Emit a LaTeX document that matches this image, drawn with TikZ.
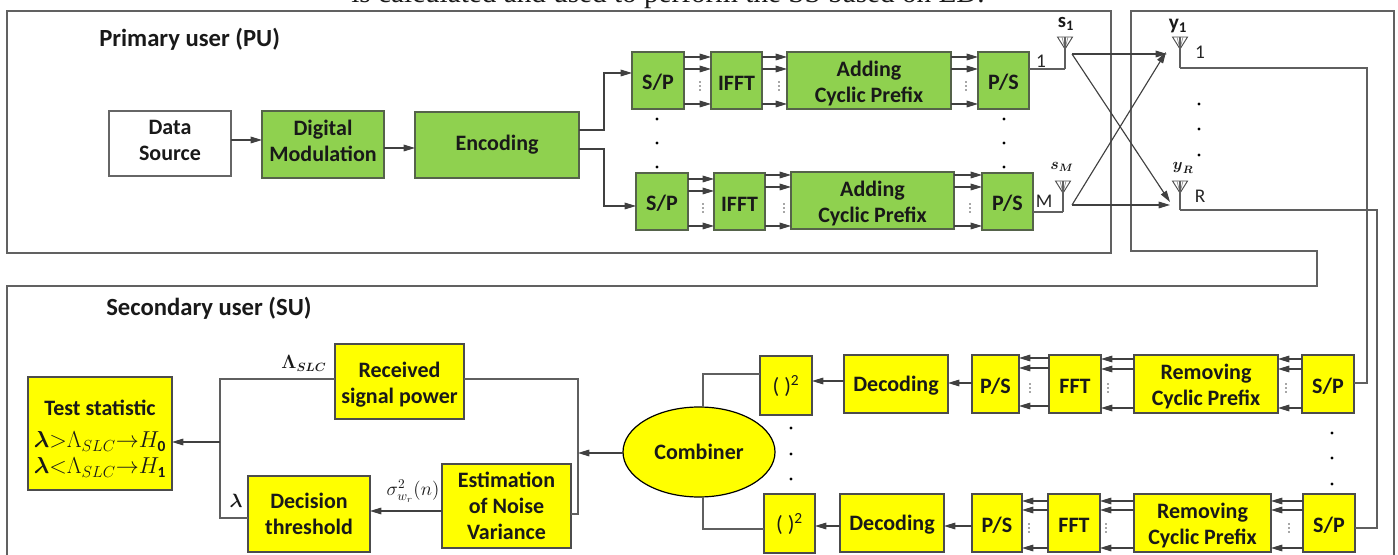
\documentclass[tikz,border=0pt]{standalone}
\usepackage{amsmath,amssymb}
\usepackage{fontspec}
\setmainfont{Carlito}
\newfontfamily\serifcut{Liberation Serif}
\usetikzlibrary{arrows.meta,calc,shapes.geometric}
\definecolor{pugreen}{HTML}{8FD14F}
\definecolor{puryellow}{HTML}{FFFF00}
\definecolor{lineg}{HTML}{5F5F5F}
\definecolor{edgeg}{HTML}{55634A}
\newcommand{\dn}[1]{\rule[-#1]{0pt}{#1}}
\newcommand{\upr}{\rule{0pt}{16pt}}
\tikzset{
  base/.style={rectangle,inner sep=0pt,outer sep=0pt,align=center,line width=0.9pt,
    font=\fontsize{16.5}{19.5}\selectfont\bfseries,text=black!90,
    execute at begin node={\rule{0pt}{14.5pt}}},
  whitebox/.style={base,draw=black!60,fill=white},
  greenbox/.style={base,draw=edgeg,fill=pugreen},
  yellowbox/.style={base,draw=black!70,fill=puryellow},
  wire/.style={draw=lineg,line width=0.85pt},
  arr/.style={wire,-{Triangle[length=8.5pt,width=5pt]},draw=black!75},
  frameline/.style={draw=black!62,line width=1pt},
  lab/.style={inner sep=0pt,font=\fontsize{18.5}{20}\selectfont\bfseries,text=black!90},
  small/.style={inner sep=0pt,font=\fontsize{14.5}{16}\selectfont,text=black!85},
  mathlab/.style={inner sep=0pt,text=black!90},
  dotnode/.style={circle,fill=black,inner sep=0pt,minimum size=2.4pt},
  tinydot/.style={circle,fill=black!70,inner sep=0pt,minimum size=1.3pt},
  ant/.style={draw=black!70,line width=0.7pt},
  antin/.style={draw=black!45,line width=0.5pt}
}
\newcommand{\bx}[7]{\node[#2,minimum width={(#5-#3)*0.75pt},minimum height={(#6-#4)*0.75pt}] (#1) at ({(#3+#5)/2},{(#4+#6)/2}) {#7};}
\newcommand{\vd}[4]{\foreach \yy in {#2,#3,#4} \node[dotnode] at (#1,\yy) {};}
\newcommand{\gapd}[2]{\node[tinydot] at (#1,#2-4) {};\node[tinydot] at (#1,#2) {};\node[tinydot] at (#1,#2+4) {};}
\newcommand{\antenna}[3]{%
  \draw[ant] (#1-7.5,#2) -- (#1+7.5,#2) -- (#1,#2+12) -- cycle;
  \draw[antin] (#1-3,#2) -- (#1,#2+12) -- (#1+3,#2);
  \draw[wire] (#1,#2) -- (#1,#3);}
\begin{document}
\begin{tikzpicture}[x=0.75pt,y=-0.75pt]
\useasboundingbox (0,0) rectangle (1398,555);
\node[anchor=base,inner sep=0pt,font=\fontsize{21.9}{23}\serifcut,text=black!90] (cuttext) at (668,3) {is calculated and used to perform the SS based on ED.};

% frames
\draw[frameline] (7,11) rectangle (1111,253);
\draw[frameline] (7,555) -- (7,286) -- (1317,286) -- (1317,251) -- (1131,251) -- (1131,11) -- (1394,11) -- (1394,555);
\node[lab,anchor=west] (putitle) at (99,39) {Primary user (PU)};
\node[lab,anchor=west] (sutitle) at (106,308) {Secondary user (SU)};

% primary chain
\bx{data}{whitebox}{109}{111}{231}{176}{Data\\Source\dn{4.5pt}}
\bx{mod}{greenbox}{262}{111}{384}{178}{Digital\\Modulation\dn{6pt}}
\bx{enc}{greenbox}{415}{112}{579}{178}{Encoding\dn{6.5pt}}
\bx{spa}{greenbox}{632}{52}{684}{109}{S/P}
\bx{iffta}{greenbox}{711}{52}{762}{109}{IFFT}
\bx{cpa}{greenbox}{787}{52}{951}{109}{\upr Adding\\Cyclic Prefix}
\bx{psa}{greenbox}{978}{52}{1029}{109}{P/S}
\bx{spb}{greenbox}{636}{173}{688}{230}{S/P}
\bx{ifftb}{greenbox}{714}{173}{765}{230}{IFFT}
\bx{cpb}{greenbox}{791}{172}{954}{229}{\upr Adding\\Cyclic Prefix}
\bx{psb}{greenbox}{982}{173}{1033}{230}{P/S}

\draw[arr] (data.east |- 0,140) -- (mod.west |- 0,140);
\draw[arr] (mod.east |- 0,148) -- (enc.west |- 0,148);
\draw[arr] (enc.east |- 0,130) -- (604,130) -- (604,73) -- (spa.west |- 0,73);
\draw[arr] (enc.east |- 0,149) -- (604,149) -- (604,206) -- (spb.west |- 0,206);
\foreach \y in {57,69,104} {
  \draw[arr] (spa.east |- 0,\y) -- (iffta.west |- 0,\y);
  \draw[arr] (iffta.east |- 0,\y) -- (cpa.west |- 0,\y);
  \draw[arr] (cpa.east |- 0,\y) -- (psa.west |- 0,\y);
}
\foreach \y in {179,191,226} \draw[arr] (spb.east |- 0,\y) -- (ifftb.west |- 0,\y);
\foreach \y in {175,187,226} {
  \draw[arr] (ifftb.east |- 0,\y) -- (cpb.west |- 0,\y);
  \draw[arr] (cpb.east |- 0,\y) -- (psb.west |- 0,\y);
}
\gapd{700}{86}\gapd{779}{86}\gapd{966}{86}
\gapd{703}{208}\gapd{784}{208}\gapd{970}{208}
\vd{657}{119}{143}{167}
\vd{1004}{119}{143}{167}

% antennas
\coordinate (sa) at (1065,69);
\coordinate (sb) at (1063,212);
\coordinate (ya) at (1180,68);
\coordinate (yb) at (1180,210);
\antenna{1065}{37}{69}
\antenna{1063}{181}{212}
\antenna{1180}{37}{68}
\antenna{1180}{181}{210}
\draw[wire] (psa.east |- sa) -- (sa);
\draw[wire] (psb.east |- sb) -- (sb);
\node[small] (n1) at (1041,61) {1};
\node[small] (nm) at (1044,201) {M};
\node[small] (nr1) at (1200,52) {1};
\node[small] (nrr) at (1200,196) {R};
\node[mathlab,font=\fontsize{15.5}{17}\selectfont] (ls1) at (1066,24) {$\mathbf{s}_{\mathbf{1}}$};
\node[mathlab,font=\fontsize{12}{14}\selectfont] (lsm) at (1062,167) {$\boldsymbol{s}_{\boldsymbol{M}}$};
\node[mathlab,font=\fontsize{16}{18}\selectfont] (ly1) at (1178,26) {$\mathbf{y}_{\mathbf{1}}$};
\node[mathlab,font=\fontsize{12}{14}\selectfont] (lyr) at (1183,168) {$\boldsymbol{y}_{\boldsymbol{R}}$};
\vd{1199}{104}{129}{155}
\coordinate (txa) at (1072,54);
\coordinate (txb) at (1072,205);
\coordinate (rxa) at (1167,54);
\coordinate (rxat) at (1166,52);
\coordinate (rxb) at (1170,205);
\coordinate (rxbt) at (1170,202);
\draw[arr] (txa) -- (rxa);
\draw[arr] (txa) -- (rxbt);
\draw[arr] (txb) -- (rxat);
\draw[arr] (txb) -- (rxb);

% secondary chain
\bx{test}{yellowbox}{28}{377}{172}{490}{\rule{0pt}{19pt}Test statistic\\[5pt]$\boldsymbol{\lambda}{>}\Lambda_{SLC}{\rightarrow}H_{\mathbf{0}}$\\$\boldsymbol{\lambda}{<}\Lambda_{SLC}{\rightarrow}H_{\mathbf{1}}$}
\bx{recv}{yellowbox}{335}{344}{464}{419}{\upr Received\\signal power}
\bx{dec}{yellowbox}{248}{476}{370}{552}{Decision\\threshold}
\bx{est}{yellowbox}{442}{464}{571}{548}{Estimation\\of Noise\\Variance}
\node[base,draw=black,fill=puryellow,ellipse,minimum width=114pt,minimum height=67.5pt] (comb) at (699,452) {Combiner\dn{3pt}};
\bx{sqa}{yellowbox}{760}{356}{812}{415}{\mdseries( )\textsuperscript{2}}
\bx{deca}{yellowbox}{844}{355}{948}{413}{Decoding}
\bx{psc}{yellowbox}{972}{355}{1019}{413}{P/S}
\bx{ffta}{yellowbox}{1049}{355}{1101}{413}{FFT}
\bx{rma}{yellowbox}{1134}{355}{1278}{413}{\upr Removing\\Cyclic Prefix}
\bx{spc}{yellowbox}{1302}{355}{1354}{413}{S/P}
\bx{sqb}{yellowbox}{764}{494}{815}{553}{\mdseries( )\textsuperscript{2}}
\bx{decb}{yellowbox}{840}{494}{944}{552}{Decoding}
\bx{psd}{yellowbox}{972}{494}{1022}{552}{P/S}
\bx{fftb}{yellowbox}{1048}{494}{1100}{552}{FFT}
\bx{rmb}{yellowbox}{1134}{494}{1271}{552}{\upr Removing\\Cyclic Prefix}
\bx{spd}{yellowbox}{1303}{494}{1355}{552}{S/P}

% receive feeds
\draw[wire] (ya) -- (1367,68) -- (1367,383) -- (spc.east |- 0,383);
\draw[wire] (yb) -- (1377,210) -- (1377,528) -- (spd.east |- 0,528);

% secondary arrows
\foreach \y in {359,369,408} {
  \draw[arr] (spc.west |- 0,\y) -- (rma.east |- 0,\y);
  \draw[arr] (rma.west |- 0,\y) -- (ffta.east |- 0,\y);
}
\foreach \y in {358,368,406} \draw[arr] (ffta.west |- 0,\y) -- (psc.east |- 0,\y);
\foreach \y in {501,510,548} {
  \draw[arr] (spd.west |- 0,\y) -- (rmb.east |- 0,\y);
  \draw[arr] (rmb.west |- 0,\y) -- (fftb.east |- 0,\y);
  \draw[arr] (fftb.west |- 0,\y) -- (psd.east |- 0,\y);
}
\draw[arr] (psc.west |- 0,383) -- (deca.east |- 0,383);
\draw[arr] (deca.west |- 0,381) -- (sqa.east |- 0,381);
\draw[arr] (psd.west |- 0,526) -- (decb.east |- 0,526);
\draw[arr] (decb.west |- 0,526) -- (sqb.east |- 0,526);
\gapd{1030}{388}\gapd{1108}{388}\gapd{1286}{388}
\gapd{1029}{528}\gapd{1106}{528}\gapd{1289}{528}
\vd{791}{428}{454}{479}
\vd{1332}{433}{458}{484}
\draw[wire] (sqa.west |- 0,374) -- (703,374) -- (comb.north -| 703,0);
\draw[wire] (sqb.west |- 0,529) -- (703,529) -- (comb.south -| 703,0);

\coordinate (busr) at (578,453);
\coordinate (busl) at (220,442);
\draw[wire] (recv.east |- 0,379) -- (578,379) -- (578,514) -- (est.east |- 0,514);
\draw[wire] (recv.west |- 0,379) -- (220,379) -- (220,518) -- (dec.west |- 0,518);
\draw[arr] (comb.west |- busr) -- (busr);
\draw[arr] (busl) -- (test.east |- busl);
\draw[arr] (est.west |- 0,511) -- (dec.east |- 0,511);
\node[mathlab,font=\fontsize{13.5}{15}\selectfont] (llam) at (304,363) {$\boldsymbol{\Lambda}_{\boldsymbol{SLC}}$};
\node[mathlab,font=\fontsize{15}{17}\selectfont] (lthr) at (236,501) {$\boldsymbol{\lambda}$};
\node[mathlab,font=\fontsize{14}{16}\selectfont] (lsig) at (413,491) {$\sigma_{w_r}^{2}(n)$};
\end{tikzpicture}
\end{document}
